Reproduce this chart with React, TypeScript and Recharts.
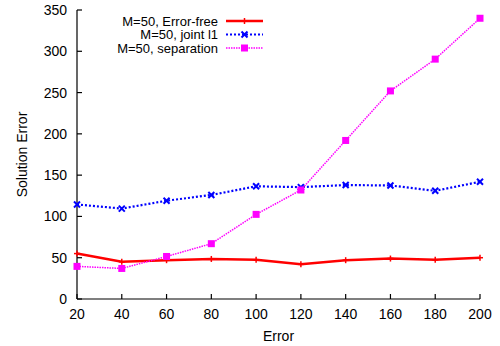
import { LineChart, Line, XAxis, YAxis } from 'recharts';

const errors = [20, 40, 60, 80, 100, 120, 140, 160, 180, 200];
const errorFree = [55, 45, 47, 48.5, 47.5, 42, 47, 49, 47.5, 50];
const jointL1 = [114.5, 109.5, 119, 126, 136.5, 135.5, 138, 137.5, 131, 142];
const separation = [39.5, 37, 51.5, 67, 102.5, 132, 192, 252, 290.5, 340];
const xTicks = [20, 40, 60, 80, 100, 120, 140, 160, 180, 200];
const yTicks = [0, 50, 100, 150, 200, 250, 300, 350];

const FONT = '"Liberation Sans", Arial, Helvetica, sans-serif';

const data = errors.map((e, i) => ({
  error: e,
  errorFree: errorFree[i],
  jointL1: jointL1[i],
  separation: separation[i],
}));

// gnuplot-ish point types
function PlusDot({ cx, cy, color }: any) {
  if (cx == null || cy == null) return null;
  return (
    <g stroke={color} strokeWidth={1.5}>
      <line x1={cx - 3} y1={cy} x2={cx + 3} y2={cy} />
      <line x1={cx} y1={cy - 3} x2={cx} y2={cy + 3} />
    </g>
  );
}

function CrossDot({ cx, cy, color }: any) {
  if (cx == null || cy == null) return null;
  return (
    <g stroke={color} strokeWidth={2}>
      <line x1={cx - 3} y1={cy - 3} x2={cx + 3} y2={cy + 3} />
      <line x1={cx - 3} y1={cy + 3} x2={cx + 3} y2={cy - 3} />
    </g>
  );
}

function SquareDot({ cx, cy, color }: any) {
  if (cx == null || cy == null) return null;
  return <rect x={cx - 3.5} y={cy - 3.5} width={7} height={7} fill={color} />;
}

const series = [
  { key: 'errorFree', name: 'M=50, Error-free', color: '#ff0000', width: 2.5, dash: undefined, Dot: PlusDot },
  { key: 'jointL1', name: 'M=50, joint l1', color: '#0000ff', width: 2.2, dash: '2 2', Dot: CrossDot },
  { key: 'separation', name: 'M=50, separation', color: '#ff00ff', width: 1.5, dash: '1.5 1', Dot: SquareDot },
];

// ticks pointing inward, gnuplot style
function BottomTick({ x, y, payload }: any) {
  return (
    <g>
      <line x1={x} y1={y} x2={x} y2={y - 5} stroke="#000" strokeWidth={1.2} />
      <text x={x} y={y + 20} textAnchor="middle" fontSize={14} fontFamily={FONT} fill="#000">
        {payload.value}
      </text>
    </g>
  );
}

function TopTick({ x, y }: any) {
  return <line x1={x} y1={y} x2={x} y2={y + 5} stroke="#000" strokeWidth={1.2} />;
}

function LeftTick({ x, y, payload }: any) {
  return (
    <g>
      <line x1={x} y1={y} x2={x + 5} y2={y} stroke="#000" strokeWidth={1.2} />
      <text x={x - 10} y={y + 5} textAnchor="end" fontSize={14} fontFamily={FONT} fill="#000">
        {payload.value}
      </text>
    </g>
  );
}

function RightTick({ x, y }: any) {
  return <line x1={x} y1={y} x2={x - 5} y2={y} stroke="#000" strokeWidth={1.2} />;
}

function KeyBox() {
  const rows = [21, 34.5, 48];
  return (
    <svg width={280} height={60} style={{ position: 'absolute', left: 0, top: 0 }}>
      {series.map((s, i) => (
        <g key={s.key}>
          <text x={218} y={rows[i] + 4.5} textAnchor="end" fontSize={13} fontFamily={FONT} fill="#000">
            {s.name}
          </text>
          <line x1={226} y1={rows[i]} x2={263} y2={rows[i]} stroke={s.color} strokeWidth={s.width} strokeDasharray={s.dash} />
          <s.Dot cx={244.5} cy={rows[i]} color={s.color} />
        </g>
      ))}
    </svg>
  );
}

export default function App() {
  const axisLine = { stroke: '#000', strokeWidth: 1.2 };
  return (
    <div style={{ position: 'absolute', left: 0, top: 0, width: 500, height: 346, background: '#fff' }}>
      <LineChart width={500} height={346} data={data} margin={{ top: 10, right: 20, bottom: 0, left: 0 }}>
        <XAxis
          dataKey="error"
          type="number"
          domain={[20, 200]}
          ticks={xTicks}
          height={47}
          tickSize={0}
          tickMargin={0}
          tickLine={false}
          axisLine={axisLine}
          tick={<BottomTick />}
          interval={0}
          label={{ value: 'Error', position: 'insideBottom', offset: 5, fontSize: 14, fontFamily: FONT, fill: '#000' }}
        />
        <XAxis
          xAxisId="top"
          orientation="top"
          dataKey="error"
          type="number"
          domain={[20, 200]}
          ticks={xTicks}
          height={0}
          tickSize={0}
          tickMargin={0}
          tickLine={false}
          axisLine={axisLine}
          tick={<TopTick />}
          interval={0}
        />
        <YAxis
          type="number"
          domain={[0, 350]}
          ticks={yTicks}
          width={77}
          tickSize={0}
          tickMargin={0}
          tickLine={false}
          axisLine={axisLine}
          tick={<LeftTick />}
          interval={0}
          label={{
            value: 'Solution Error',
            angle: -90,
            position: 'insideLeft',
            offset: 22,
            fontSize: 14,
            fontFamily: FONT,
            fill: '#000',
            style: { textAnchor: 'middle' },
          }}
        />
        <YAxis
          yAxisId="right"
          orientation="right"
          type="number"
          domain={[0, 350]}
          ticks={yTicks}
          width={0}
          tickSize={0}
          tickMargin={0}
          tickLine={false}
          axisLine={axisLine}
          tick={<RightTick />}
          interval={0}
        />
        {series.map((s) => (
          <Line
            key={s.key}
            dataKey={s.key}
            name={s.name}
            type="linear"
            stroke={s.color}
            strokeWidth={s.width}
            strokeDasharray={s.dash}
            dot={(p: any) => <s.Dot key={p.index} cx={p.cx} cy={p.cy} color={s.color} />}
            activeDot={false}
            isAnimationActive={false}
          />
        ))}
      </LineChart>
      <KeyBox />
    </div>
  );
}
